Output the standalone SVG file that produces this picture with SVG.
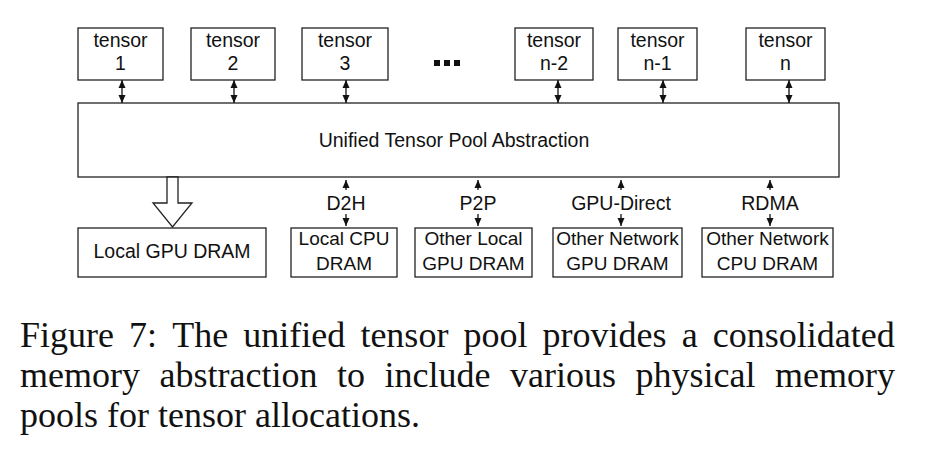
<svg xmlns="http://www.w3.org/2000/svg" width="930" height="456" viewBox="0 0 930 456">
<style>
.box{fill:#fff;stroke:#222;stroke-width:1.3}
.t{font-family:"Liberation Sans",Arial,sans-serif;font-size:19.5px;fill:#111;text-anchor:middle}
.s{font-size:19px}
.c{font-family:"Liberation Serif","Times New Roman",serif;font-size:36px;fill:#111}
.ln{stroke:#111;stroke-width:1.3;fill:none}
</style>
<defs>
<marker id="ah" viewBox="0 0 8 10" refX="8" refY="5" markerWidth="8" markerHeight="10" markerUnits="userSpaceOnUse" orient="auto-start-reverse">
<path d="M0,1.5 L8,5 L0,8.5 Z" fill="#111"/>
</marker>
</defs>
<rect width="930" height="456" fill="#fff"/>
<g id="tensor1"><rect class="box" x="78" y="28" width="85" height="52"/><text class="t" x="120.5" y="47">tensor</text><text class="t" x="120.5" y="70">1</text></g>
<g id="tensor2"><rect class="box" x="191" y="28" width="84" height="52"/><text class="t" x="233" y="47">tensor</text><text class="t" x="233" y="70">2</text></g>
<g id="tensor3"><rect class="box" x="302" y="28" width="86" height="52"/><text class="t" x="345" y="47">tensor</text><text class="t" x="345" y="70">3</text></g>
<g id="ellipsis" fill="#111"><rect x="434" y="60" width="6" height="6"/><rect x="444" y="60" width="6" height="6"/><rect x="454" y="60" width="6" height="6"/></g>
<g id="tensorn2"><rect class="box" x="515" y="28" width="78" height="52"/><text class="t" x="554" y="47">tensor</text><text class="t" x="554" y="70">n-2</text></g>
<g id="tensorn1"><rect class="box" x="618" y="28" width="79" height="52"/><text class="t" x="657.5" y="47">tensor</text><text class="t" x="657.5" y="70">n-1</text></g>
<g id="tensorn"><rect class="box" x="746" y="28" width="79" height="52"/><text class="t" x="785.5" y="47">tensor</text><text class="t" x="785.5" y="70">n</text></g>
<g id="pool"><rect class="box" x="78" y="103" width="761" height="74"/><text class="t" x="454" y="147">Unified Tensor Pool Abstraction</text></g>
<g id="localgpu"><rect class="box" x="78" y="228" width="188" height="49"/><text class="t" x="172" y="258">Local GPU DRAM</text></g>
<g id="localcpu"><rect class="box" x="291" y="228" width="106" height="49"/><text class="t s" x="344" y="245">Local CPU</text><text class="t s" x="344" y="270">DRAM</text></g>
<g id="otherlocal"><rect class="box" x="415" y="228" width="117" height="49"/><text class="t s" x="473.5" y="245">Other Local</text><text class="t s" x="473.5" y="270">GPU DRAM</text></g>
<g id="netgpu"><rect class="box" x="553" y="228" width="129" height="49"/><text class="t s" x="617.5" y="245">Other Network</text><text class="t s" x="617.5" y="270">GPU DRAM</text></g>
<g id="netcpu"><rect class="box" x="702" y="228" width="131" height="49"/><text class="t s" x="767.5" y="245">Other Network</text><text class="t s" x="767.5" y="270">CPU DRAM</text></g>
<g id="connectors">
<line class="ln" x1="122" y1="80" x2="122" y2="103" marker-start="url(#ah)" marker-end="url(#ah)"/>
<line class="ln" x1="234" y1="80" x2="234" y2="103" marker-start="url(#ah)" marker-end="url(#ah)"/>
<line class="ln" x1="346" y1="80" x2="346" y2="103" marker-start="url(#ah)" marker-end="url(#ah)"/>
<line class="ln" x1="558" y1="80" x2="558" y2="103" marker-start="url(#ah)" marker-end="url(#ah)"/>
<line class="ln" x1="663" y1="80" x2="663" y2="103" marker-start="url(#ah)" marker-end="url(#ah)"/>
<line class="ln" x1="789" y1="80" x2="789" y2="103" marker-start="url(#ah)" marker-end="url(#ah)"/>
<polygon points="167,177 178,177 178,203 192,203 172.5,227 153,203 167,203" fill="#fff" stroke="#222" stroke-width="1.3"/>
<line class="ln" x1="346" y1="190" x2="346" y2="180" marker-end="url(#ah)"/>
<line class="ln" x1="346" y1="214" x2="346" y2="226" marker-end="url(#ah)"/>
<text class="t" x="346" y="210">D2H</text>
<line class="ln" x1="478" y1="190" x2="478" y2="180" marker-end="url(#ah)"/>
<line class="ln" x1="478" y1="214" x2="478" y2="226" marker-end="url(#ah)"/>
<text class="t" x="478" y="210">P2P</text>
<line class="ln" x1="621" y1="190" x2="621" y2="180" marker-end="url(#ah)"/>
<line class="ln" x1="621" y1="214" x2="621" y2="226" marker-end="url(#ah)"/>
<text class="t" x="621" y="210">GPU-Direct</text>
<line class="ln" x1="770" y1="190" x2="770" y2="180" marker-end="url(#ah)"/>
<line class="ln" x1="770" y1="214" x2="770" y2="226" marker-end="url(#ah)"/>
<text class="t" x="770" y="210">RDMA</text>
</g>
<g id="caption" class="c">
<text y="347"><tspan x="20">Figure</tspan><tspan x="129.1">7:</tspan><tspan x="172.2">The</tspan><tspan x="243.3">unified</tspan><tspan x="360.4">tensor</tspan><tspan x="463.5">pool</tspan><tspan x="542.6">provides</tspan><tspan x="681.7">a</tspan><tspan x="712.8">consolidated</tspan></text>
<text y="387"><tspan x="20">memory</tspan><tspan x="159.5">abstraction</tspan><tspan x="337">to</tspan><tspan x="384.5">include</tspan><tspan x="510">various</tspan><tspan x="635.5">physical</tspan><tspan x="775">memory</tspan></text>
<text x="20" y="427">pools for tensor allocations.</text>
</g>
</svg>
